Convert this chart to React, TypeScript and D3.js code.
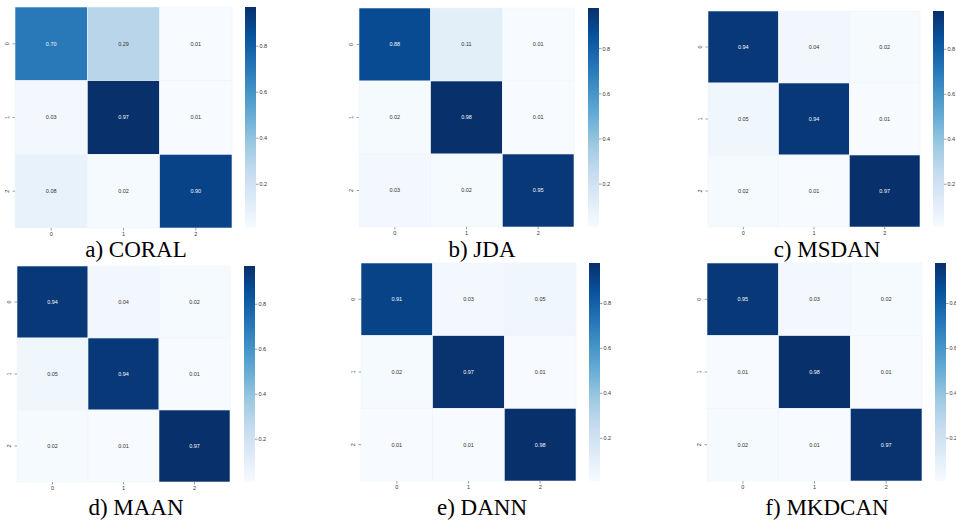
import React from "react";
import * as d3 from "d3";

const classes = ["0", "1", "2"];
const titles = ["a) CORAL", "b) JDA", "c) MSDAN", "d) MAAN", "e) DANN", "f) MKDCAN"];
const coral = [[0.70, 0.29, 0.01], [0.03, 0.97, 0.01], [0.08, 0.02, 0.90]];
const jda = [[0.88, 0.11, 0.01], [0.02, 0.98, 0.01], [0.03, 0.02, 0.95]];
const msdan = [[0.94, 0.04, 0.02], [0.05, 0.94, 0.01], [0.02, 0.01, 0.97]];
const maan = [[0.94, 0.04, 0.02], [0.05, 0.94, 0.01], [0.02, 0.01, 0.97]];
const dann = [[0.91, 0.03, 0.05], [0.02, 0.97, 0.01], [0.01, 0.01, 0.98]];
const mkdcan = [[0.95, 0.03, 0.02], [0.01, 0.98, 0.01], [0.02, 0.01, 0.97]];
const matrices = [coral, jda, msdan, maan, dann, mkdcan];
const cbTicks = [0.2, 0.4, 0.6, 0.8];
const bluesStops = ["#f7fbff", "#deebf7", "#c6dbef", "#9ecae1", "#6baed6", "#4292c6", "#2171b5", "#08519c", "#08306b"];

// layout: heatmap box, colorbar x, title position
const layout = [
  { x0: 15, x1: 232, y0: 7, y1: 228, cb: 245, tx: 136, ty: 257 },
  { x0: 359, x1: 574, y0: 8, y1: 227, cb: 588, tx: 482, ty: 257 },
  { x0: 708, x1: 920, y0: 11, y1: 227, cb: 933, tx: 827, ty: 257 },
  { x0: 17, x1: 230, y0: 266, y1: 482, cb: 244, tx: 136, ty: 515 },
  { x0: 361, x1: 576, y0: 263, y1: 481, cb: 589, tx: 482, ty: 515 },
  { x0: 707, x1: 922, y0: 263, y1: 481, cb: 935, tx: 827, ty: 515 },
];

const smallFont = "'Liberation Sans', Arial, sans-serif";

function Panel({ m, title, L, idx }: { m: number[][]; title: string; L: any; idx: number }) {
  const flat = m.flat();
  const vmin = d3.min(flat) as number;
  const vmax = d3.max(flat) as number;
  const color = d3
    .scaleLinear<string>()
    .domain(bluesStops.map((_, i) => vmin + ((vmax - vmin) * i) / (bluesStops.length - 1)))
    .range(bluesStops)
    .interpolate(d3.interpolateRgb)
    .clamp(true);
  const xs = d3.scaleBand().domain(classes).range([L.x0, L.x1]);
  const ys = d3.scaleBand().domain(classes).range([L.y0, L.y1]);
  const cbY = d3.scaleLinear().domain([vmin, vmax]).range([L.y1, L.y0]);
  const cbW = 11;
  const gid = `grad${idx}`;
  const textColor = (v: number) => {
    const c = d3.lab(color(v));
    return c.l < 55 ? "#f4f8fc" : "#333333";
  };
  return (
    <g>
      <defs>
        <linearGradient id={gid} x1="0" y1="1" x2="0" y2="0">
          {bluesStops.map((c, i) => (
            <stop key={i} offset={`${(i / (bluesStops.length - 1)) * 100}%`} stopColor={c} />
          ))}
        </linearGradient>
      </defs>
      {m.map((row, r) =>
        row.map((v, c) => (
          <g key={`${r}-${c}`}>
            <rect
              x={xs(classes[c])}
              y={ys(classes[r])}
              width={xs.bandwidth()}
              height={ys.bandwidth()}
              fill={color(v)}
              stroke="#eef4fa"
              strokeWidth={0.6}
            />
            <text
              x={(xs(classes[c]) as number) + xs.bandwidth() / 2}
              y={(ys(classes[r]) as number) + ys.bandwidth() / 2}
              dy="0.35em"
              textAnchor="middle"
              fontSize={5.5}
              fontFamily={smallFont}
              fill={textColor(v)}
            >
              {v.toFixed(2)}
            </text>
          </g>
        ))
      )}
      {classes.map((c) => {
        const cx = (xs(c) as number) + xs.bandwidth() / 2;
        return (
          <g key={`xt${c}`}>
            <line x1={cx} x2={cx} y1={L.y1} y2={L.y1 + 2.5} stroke="#444" strokeWidth={0.5} />
            <text x={cx} y={L.y1 + 8} textAnchor="middle" fontSize={5.5} fontFamily={smallFont} fill="#333">
              {c}
            </text>
          </g>
        );
      })}
      {classes.map((c) => {
        const cy = (ys(c) as number) + ys.bandwidth() / 2;
        return (
          <g key={`yt${c}`}>
            <line x1={L.x0 - 2.5} x2={L.x0} y1={cy} y2={cy} stroke="#444" strokeWidth={0.5} />
            <text
              x={L.x0 - 6}
              y={cy}
              transform={`rotate(-90, ${L.x0 - 6}, ${cy})`}
              textAnchor="middle"
              fontSize={5.5}
              fontFamily={smallFont}
              fill="#333"
            >
              {c}
            </text>
          </g>
        );
      })}
      <rect x={L.cb} y={L.y0} width={cbW} height={L.y1 - L.y0} fill={`url(#${gid})`} />
      {cbTicks.map((t) => (
        <g key={`cb${t}`}>
          <line x1={L.cb + cbW} x2={L.cb + cbW + 2.5} y1={cbY(t)} y2={cbY(t)} stroke="#444" strokeWidth={0.5} />
          <text x={L.cb + cbW + 3.5} y={cbY(t)} dy="0.35em" fontSize={5.5} fontFamily={smallFont} fill="#333">
            {t.toFixed(1)}
          </text>
        </g>
      ))}
      <text
        x={L.tx}
        y={L.ty}
        textAnchor="middle"
        style={{ fontFamily: "'Liberation Serif', 'Times New Roman', serif", fontSize: "23px" }}
        fill="#000"
      >
        {title}
      </text>
    </g>
  );
}

export default function App() {
  return (
    <svg
      width={956}
      height={520}
      style={{ position: "absolute", left: 0, top: 0, background: "#fff" }}
    >
      <rect x={0} y={0} width={956} height={520} fill="#fff" />
      {matrices.map((m, i) => (
        <Panel key={i} m={m} title={titles[i]} L={layout[i]} idx={i} />
      ))}
    </svg>
  );
}
